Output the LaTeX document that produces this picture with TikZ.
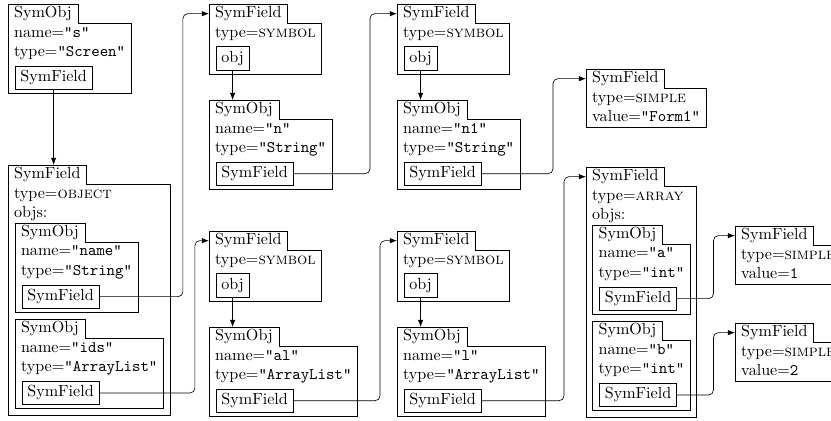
\documentclass[tikz,border=0pt]{standalone}
\usepackage{tikz}
\usetikzlibrary{positioning,fit,arrows.meta}

% outline of a box with a tab, around the nodes listed in #2
\newcommand{\folder}[2]{%
  \node[fit={#2}, inner sep=0pt, outer sep=0pt] (#1-body) {};
  \draw (#1.north west) -- (#1.north east) -- (#1.south east)
    -- (#1.south east -| #1-body.east) |- (#1.west |- #1-body.south) -- cycle;
}
\newcommand{\symobj}[4]{%
  \node[tab, #2] (#1) {SymObj};
  \node[row, below right=0pt and 0pt of #1.south west] (#1-name) {name=\texttt{"#3"}};
  \node[row, below right=0pt and 0pt of #1-name.south west] (#1-type) {type=\texttt{"#4"}};
  \node[fld, below right=2.5pt and 4.5pt of #1-type.south west] (#1-f) {SymField};
  \folder{#1}{(#1)(#1-type)([yshift=-2.5pt]#1-f.south)}
}
\newcommand{\symref}[2]{%
  \node[tab, #2] (#1) {SymField};
  \node[row, below right=0pt and 0pt of #1.south west] (#1-type) {type=\textsc{symbol}};
  \node[fld, below right=2.5pt and 4.5pt of #1-type.south west] (#1-obj) {obj};
  \folder{#1}{(#1)(#1-type)([yshift=-2.5pt]#1-obj.south)}
}
\newcommand{\simplefield}[3]{%
  \node[tab, #2] (#1) {SymField};
  \node[row, below right=0pt and 0pt of #1.south west] (#1-type) {type=\textsc{simple}};
  \node[row, below right=0pt and 0pt of #1-type.south west] (#1-value) {value=#3};
  \folder{#1}{(#1)(#1-type)(#1-value)}
}

\begin{document}
\begin{tikzpicture}[x=0.621pt,y=-0.621pt,>={Latex[length=4.5pt,width=3.4pt]},
    tab/.style={inner xsep=3.8pt,inner ysep=1.5pt,outer sep=0pt,text height=7pt,text depth=2pt,anchor=north west},
    row/.style={tab},
    fld/.style={draw,inner xsep=3.2pt,inner ysep=2.75pt,outer sep=0pt,text height=7pt,text depth=2pt},
    ptr/.style={->,rounded corners=3pt}]
  \useasboundingbox (0,0) rectangle (831,420);

  \symobj{s}{at={(8,4)}}{s}{Screen}

  % field of type object
  \node[tab] (o) at (8,165) {SymField};
  \node[row, below right=0pt and 0pt of o.south west] (o-type) {type=\textsc{object}};
  \node[row, below right=0pt and 0pt of o-type.south west] (o-objs) {objs:};
  \symobj{nm}{below right=0pt and 4.3pt of o-objs.south west}{name}{String}
  \symobj{ids}{below right=4.3pt and 0pt of nm-body.south west}{ids}{ArrayList}
  \folder{o}{(o)(o-type)(o-objs)([shift={(4.3pt,-4.3pt)}]ids-body.south east)}

  \symref{sym1}{at={(209,4)}}
  \symobj{n}{at={(209,100)}}{n}{String}
  \symref{sym2}{at={(397,4)}}
  \symobj{n1}{at={(397,100)}}{n1}{String}
  \simplefield{form}{at={(586,69)}}{\texttt{"Form1"}}

  \symref{sym3}{at={(209,231)}}
  \symobj{al}{at={(209,327)}}{al}{ArrayList}
  \symref{sym4}{at={(397,231)}}
  \symobj{l}{at={(397,327)}}{l}{ArrayList}

  % field of type array
  \node[tab] (arr) at (586,167) {SymField};
  \node[row, below right=0pt and 0pt of arr.south west] (arr-type) {type=\textsc{array}};
  \node[row, below right=0pt and 0pt of arr-type.south west] (arr-objs) {objs:};
  \symobj{a}{below right=0pt and 4pt of arr-objs.south west}{a}{int}
  \symobj{b}{below right=4.3pt and 0pt of a-body.south west}{b}{int}
  \folder{arr}{(arr)(arr-type)(arr-objs)([shift={(4pt,-4.3pt)}]b-body.south east)}

  \simplefield{v1}{at={(735,226)}}{\texttt{1}}
  \simplefield{v2}{at={(735,323)}}{\texttt{2}}

  % pointers
  \draw[ptr] (s-f.south) -- (o.north -| s-f.south);
  \foreach \f/\o in {sym1/n,sym2/n1,sym3/al,sym4/l}
    \draw[ptr] (\f-obj.south) -- (\o.north -| \f-obj.south);
  \draw[ptr] (nm-f.east) -- ++(84,0) |- (sym1.west);
  \draw[ptr] (ids-f.east) -- ++(96,0) |- (sym3.west);
  \draw[ptr] (n-f.east) -- ++(77,0) |- (sym2.west);
  \draw[ptr] (al-f.east) -- ++(87,0) |- (sym4.west);
  \draw[ptr] (n1-f.east) -- ++(72,0) |- (form.west);
  \draw[ptr] (l-f.east) -- ++(83,0) |- (arr.west);
  \draw[ptr] (a-f.east) -- ++(37,0) |- (v1.west);
  \draw[ptr] (b-f.east) -- ++(37,0) |- (v2.west);
\end{tikzpicture}
\end{document}
